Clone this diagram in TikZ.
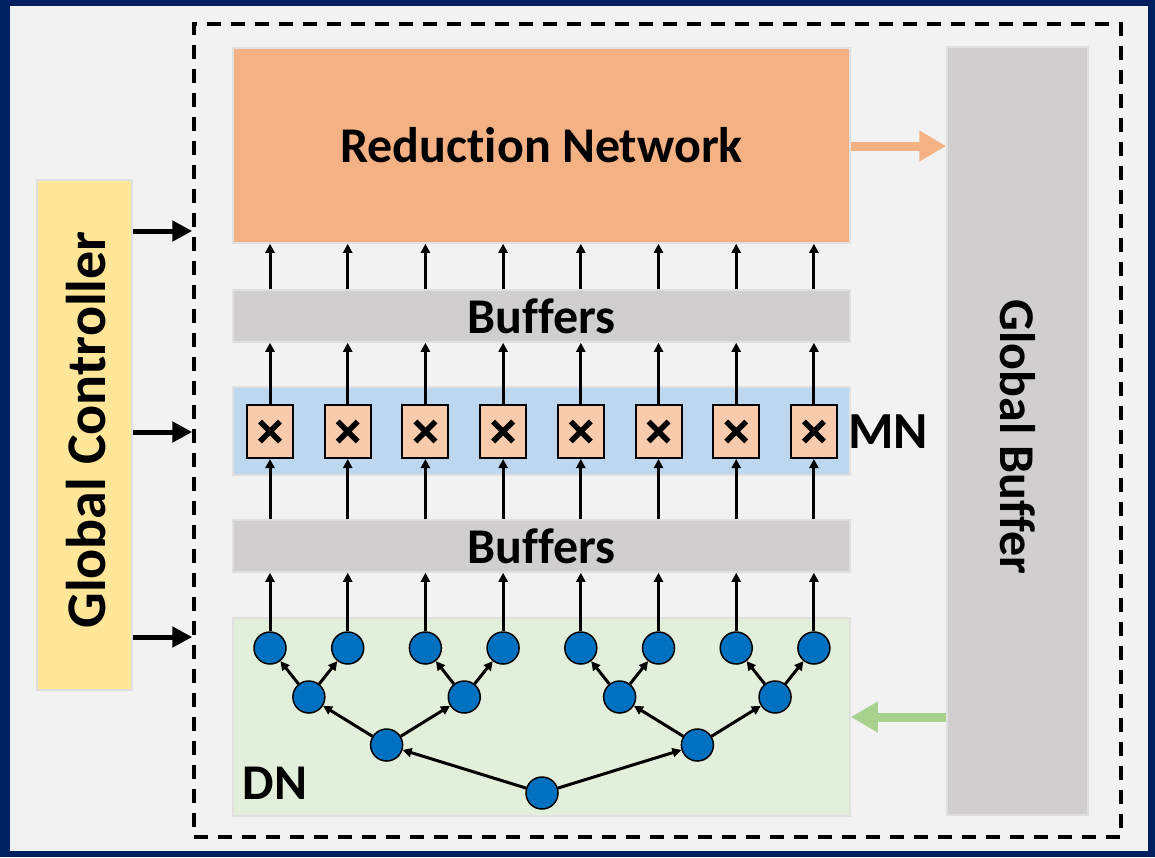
\documentclass[tikz,border=0pt]{standalone}
\usepackage{fontspec}
\setmainfont{Carlito}[Ligatures=NoCommon]
\usepackage{tikz}
\usetikzlibrary{arrows.meta,positioning,calc}
\definecolor{navy}{HTML}{002060}
\definecolor{paper}{HTML}{F2F2F2}
\definecolor{ctrlc}{HTML}{FFE699}
\definecolor{redc}{HTML}{F4B183}
\definecolor{multc}{HTML}{F8CBAD}
\definecolor{bufc}{HTML}{D0CECE}
\definecolor{mnc}{HTML}{BDD7EE}
\definecolor{dnc}{HTML}{E2EFDA}
\definecolor{dotc}{HTML}{0070C0}
\definecolor{feedc}{HTML}{A9D18E}
\newcommand{\lblfont}{\fontsize{50}{54}\selectfont\bfseries}
\newcommand{\ctlfont}{\fontsize{56}{60}\selectfont\bfseries}
\tikzset{
  blk/.style={draw=black!12,line width=1.5pt,inner sep=0pt},
  mult/.style={draw=black,line width=2pt,fill=multc,minimum width=46pt,minimum height=53pt,inner sep=0pt,
    path picture={\draw[line width=5.5pt] ($(path picture bounding box.center)+(-10pt,-10pt)$) -- ++(20pt,20pt)
      ($(path picture bounding box.center)+(-10pt,10pt)$) -- ++(20pt,-20pt);}},
  dot/.style={circle,draw=black,line width=1.5pt,fill=dotc,minimum size=32pt,inner sep=0pt},
  arr/.style={-{Triangle[length=9pt,width=9pt]},line width=3pt},
  ctlarr/.style={-{Triangle[length=20pt,width=20pt]},line width=5pt},
  fatarr/.style={-{Triangle[length=27pt,width=29pt]},line width=9pt},
  lbl/.style={font=\lblfont,text=black,inner sep=0pt},
}
\begin{document}
\begin{tikzpicture}[x=1pt,y=-1pt]
  \useasboundingbox (0,0) rectangle (1155,857);
  \fill[navy] (0,0) rectangle (1155,857);
  \fill[paper] (10,6) rectangle (1148,851);

  % outer frame and side blocks
  \node[draw,dashed,dash pattern=on 14pt off 10pt,line width=3.5pt,minimum width=927pt,minimum height=813pt,inner sep=0pt] (frame) at (657.5,430.5) {};
  \node[blk,fill=ctrlc,minimum width=95pt,minimum height=510pt] (ctrl) at (84.5,435) {};
  \node[lbl,font=\ctlfont,rotate=90] at (86,430) {Global Controller};
  \node[blk,fill=bufc,minimum width=141pt,minimum height=768pt] (gbuf) at (1017.5,431) {};
  \node[lbl,rotate=-90] at (1017.5,437) {Global Buffer};

  % stacked layers
  \node[blk,fill=redc,minimum width=617pt,minimum height=195pt,font=\lblfont] (red) at (541.5,145.5) {Reduction Network};
  \node[blk,fill=bufc,minimum width=617pt,minimum height=52pt,font=\lblfont] (buf1) at (541.5,316) {Buffers};
  \node[blk,fill=mnc,minimum width=617pt,minimum height=88pt] (mn) at (541.5,431) {};
  \node[blk,fill=bufc,minimum width=617pt,minimum height=52pt,font=\lblfont] (buf2) at (541.5,546) {Buffers};
  \node[blk,fill=dnc,minimum width=617pt,minimum height=198pt] (dn) at (541.5,717) {};
  \node[lbl,font=\fontsize{52}{56}\selectfont\bfseries] at (888,432) {MN};
  \node[lbl] at (275,783) {DN};

  % multipliers and leaves
  \foreach \i in {0,...,7} {
    \node[mult] (m\i) at ({270+77.7*\i},431.5) {};
    \node[dot] (l\i) at ({270+77.7*\i},648) {};
    \draw[arr] (l\i) -- (l\i |- buf2.south);
    \draw[arr] (buf2.north -| m\i) -- (m\i);
    \draw[arr] (m\i) -- (m\i |- buf1.south);
    \draw[arr] (buf1.north -| m\i) -- (m\i |- red.south);
  }

  % distribution tree
  \foreach \i in {0,...,3}
    \node[dot] (p\i) at ({308.85+155.4*\i},697) {};
  \node[dot] (q0) at (386.6,745) {};
  \node[dot] (q1) at (697.4,745) {};
  \node[dot] (root) at (542,793) {};
  \foreach \i/\a/\b in {0/0/1,1/2/3,2/4/5,3/6/7} {
    \draw[arr] (p\i) -- (l\a);
    \draw[arr] (p\i) -- (l\b);
  }
  \draw[arr] (q0) -- (p0);
  \draw[arr] (q0) -- (p1);
  \draw[arr] (q1) -- (p2);
  \draw[arr] (q1) -- (p3);
  \draw[arr] (root) -- (q0);
  \draw[arr] (root) -- (q1);

  % control and data paths
  \foreach \y in {231,432,637}
    \draw[ctlarr] (ctrl.east |- 0,\y) -- (frame.west |- 0,\y);
  \draw[fatarr,redc] (red.east |- 0,146) -- (gbuf.west |- 0,146);
  \draw[fatarr,feedc] (gbuf.west |- 0,717) -- (dn.east |- 0,717);
\end{tikzpicture}
\end{document}
